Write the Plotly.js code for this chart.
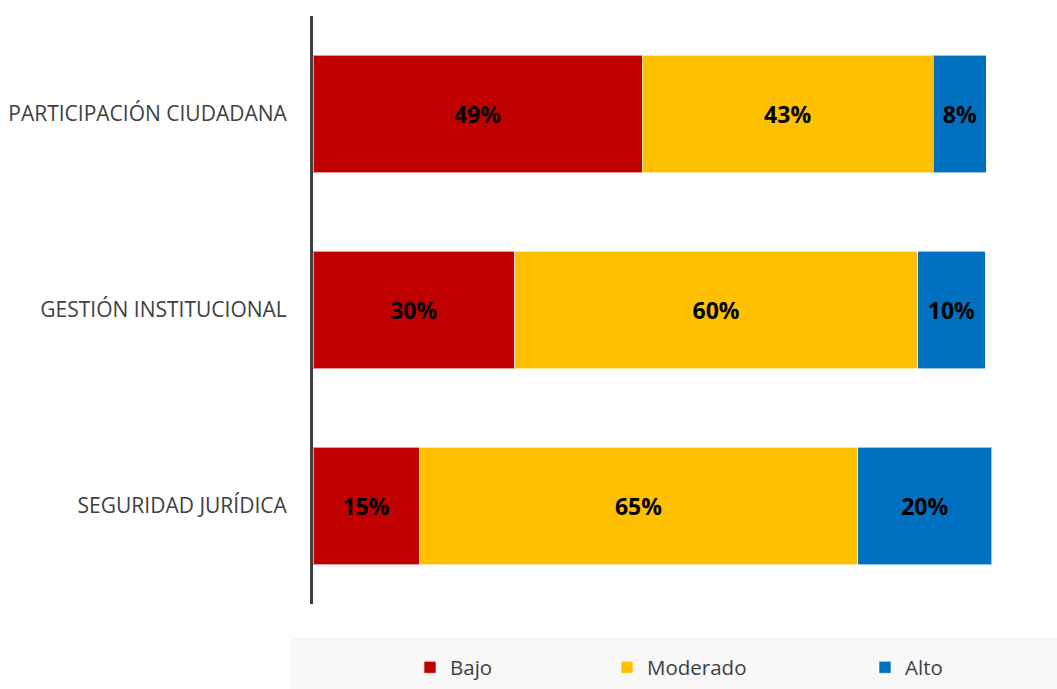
<!DOCTYPE html>
<html>
<head>
<meta charset="utf-8">
<script src="https://cdn.plot.ly/plotly-3.0.1.min.js"></script>
<style>html,body{margin:0;padding:0;background:#fff;}#chart{width:1057px;height:689px;}</style>
</head>
<body>
<div id="chart"></div>
<script>
const categories = ['PARTICIPACIÓN CIUDADANA', 'GESTIÓN INSTITUCIONAL', 'SEGURIDAD JURÍDICA'];
const seriesNames = ['Bajo', 'Moderado', 'Alto'];
const bajo = [49, 30, 15.8];
const moderado = [43.3, 60, 65.3];
const alto = [7.9, 10, 19.9];
const bajoLabels = ['49%', '30%', '15%'];
const moderadoLabels = ['43%', '60%', '65%'];
const altoLabels = ['8%', '10%', '20%'];
const colors = ['#C00000', '#FFC000', '#0070C0'];

const L = 313, R = 1050, T = 16, B = 604, W = 1057, H = 689;
const pxPerUnit = 6.72;
const xmax = (R - L) / pxPerUnit;
const px = x => (x - L) / (R - L);
const py = y => (B - y) / (B - T);

const vals = [bajo, moderado, alto];
const labs = [bajoLabels, moderadoLabels, altoLabels];
const legendNames = ['legend', 'legend2', 'legend3'];
const traces = seriesNames.map((n, i) => ({
  type: 'bar', orientation: 'h', name: n,
  y: categories, x: vals[i], text: labs[i],
  textposition: 'inside', insidetextanchor: 'middle', constraintext: 'none',
  textfont: {family: 'Open Sans', size: 23, color: '#000', weight: 'bold'},
  marker: {color: colors[i], line: {color: 'rgba(255,255,255,0.6)', width: 1}},
  hoverinfo: 'none', legend: legendNames[i]
}));

const legendBase = (xpix) => ({
  xref: 'container', yref: 'container',
  x: xpix / W, xanchor: 'left', y: 1 - 667.5 / H, yanchor: 'middle', orientation: 'h',
  bgcolor: 'rgba(0,0,0,0)', font: {family: 'Open Sans', size: 20.5, color: '#404040'}
});

const layout = {
  width: W, height: H,
  margin: {l: L, r: W - R, t: T, b: H - B, pad: 0, autoexpand: false},
  paper_bgcolor: '#fff', plot_bgcolor: '#fff',
  barmode: 'stack', bargap: 0.4,
  showlegend: true,
  legend: legendBase(410),
  legend2: legendBase(607),
  legend3: legendBase(865),
  xaxis: {range: [0, xmax], showgrid: false, zeroline: false, showticklabels: false, showline: false, fixedrange: true},
  yaxis: {
    type: 'category', categoryorder: 'array', categoryarray: categories,
    range: [2.5, -0.5], showgrid: false, zeroline: false,
    showline: true, linecolor: '#404040', linewidth: 3,
    ticks: '', ticklabelstandoff: 19, automargin: false,
    tickfont: {family: 'Open Sans', size: 21, color: '#404040'}
  },
  shapes: [{
    type: 'rect', xref: 'paper', yref: 'paper', layer: 'below',
    x0: px(290), x1: px(1057), y0: py(637), y1: py(689),
    fillcolor: '#F8F8F8', line: {width: 0}
  }]
};

Plotly.newPlot('chart', traces, layout, {displayModeBar: false, staticPlot: true});
</script>
</body>
</html>
